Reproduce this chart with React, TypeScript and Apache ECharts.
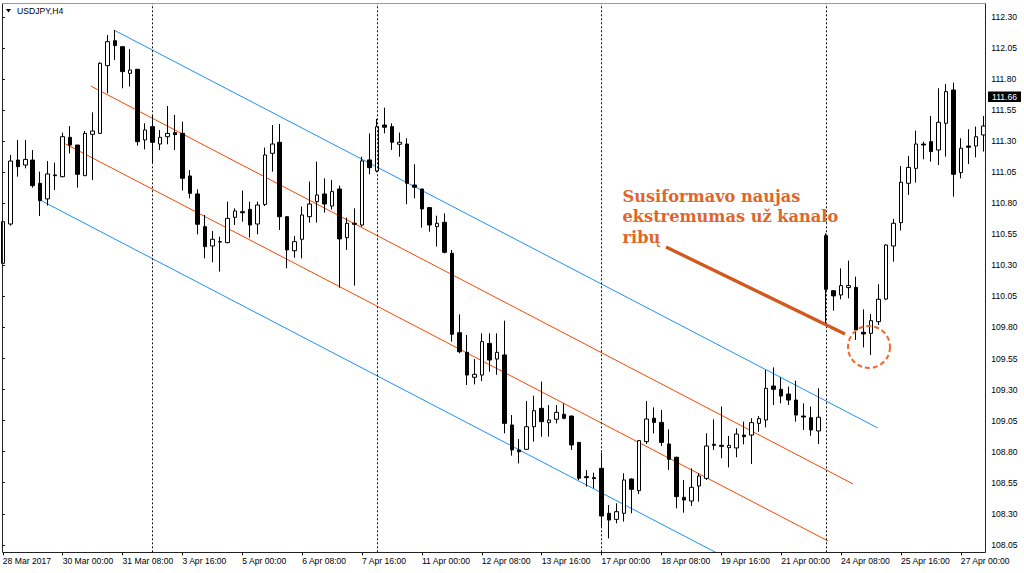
import React, { useEffect, useRef } from "react";
import * as echarts from "echarts";

// ---- data (USDJPY, H4) ----
const TICK_LABELS = [
  "28 Mar 2017", "30 Mar 00:00", "31 Mar 08:00", "3 Apr 16:00", "5 Apr 00:00",
  "6 Apr 08:00", "7 Apr 16:00", "11 Apr 00:00", "12 Apr 08:00", "13 Apr 16:00",
  "17 Apr 00:00", "18 Apr 08:00", "19 Apr 16:00", "21 Apr 00:00", "24 Apr 08:00",
  "25 Apr 16:00", "27 Apr 00:00",
];
const BARS_PER_LABEL = 8;

const OPEN = [
  110.316, 110.633, 111.148, 111.108, 111.148, 110.961, 110.835, 111.028, 111.014, 111.331,
  111.269, 111.022, 111.355, 111.363, 111.908, 112.109, 112.061, 111.846, 111.879, 111.310,
  111.417, 111.277, 111.336, 111.369, 111.363, 111.020, 110.875, 110.612, 110.456, 110.491,
  110.483, 110.687, 110.732, 110.751, 110.633, 110.791, 111.202, 111.291, 110.692, 110.418,
  110.510, 110.692, 110.813, 110.875, 110.778, 110.915, 110.523, 110.639, 110.625, 111.149,
  111.060, 111.430, 111.417, 111.275, 111.277, 110.947, 110.915, 110.765, 110.612, 110.647,
  110.397, 109.758, 109.600, 109.399, 109.417, 109.672, 109.546, 109.579, 109.015, 108.814,
  108.819, 109.001, 109.149, 109.034, 109.061, 109.101, 109.087, 108.875, 108.599, 108.591,
  108.666, 108.304, 108.255, 108.304, 108.580, 108.486, 108.881, 109.069, 109.036, 108.862,
  108.755, 108.433, 108.403, 108.524, 108.585, 108.859, 108.851, 108.832, 108.830, 108.934,
  108.934, 109.028, 109.055, 109.329, 109.302, 109.264, 109.216, 109.087, 109.074, 108.967,
  110.539, 110.096, 110.062, 110.121, 110.123, 109.761, 109.753, 109.847, 110.029, 110.456,
  110.644, 110.961, 111.081, 111.277, 111.296, 111.229, 111.444, 111.712, 111.047, 111.261,
  111.261, 111.350,
];
const HIGH = [
  110.665, 111.189, 111.310, 111.310, 111.229, 111.055, 111.140, 111.127, 111.369, 111.422,
  111.269, 111.382, 111.532, 111.935, 112.155, 112.195, 112.061, 112.042, 111.879, 111.444,
  111.511, 111.390, 111.583, 111.511, 111.457, 111.068, 110.912, 110.706, 110.577, 110.531,
  110.813, 110.759, 110.902, 110.813, 110.813, 111.248, 111.430, 111.438, 110.692, 110.537,
  110.773, 110.974, 111.135, 111.001, 110.988, 110.942, 110.684, 110.759, 111.175, 111.363,
  111.479, 111.570, 111.444, 111.369, 111.323, 111.114, 110.915, 110.770, 110.700, 110.719,
  110.424, 109.906, 109.740, 109.546, 109.753, 109.753, 109.753, 109.855, 109.095, 108.902,
  109.208, 109.251, 109.364, 109.176, 109.176, 109.189, 109.090, 108.875, 108.653, 108.631,
  108.792, 108.371, 108.384, 108.626, 108.585, 108.894, 109.208, 109.157, 109.136, 108.980,
  108.760, 108.572, 108.666, 108.626, 108.948, 109.061, 109.163, 108.926, 108.988, 109.042,
  109.069, 109.087, 109.458, 109.479, 109.399, 109.324, 109.372, 109.189, 109.163, 109.310,
  110.558, 110.100, 110.276, 110.338, 110.209, 109.946, 109.909, 110.148, 110.470, 110.674,
  111.100, 111.181, 111.385, 111.296, 111.503, 111.726, 111.761, 111.771, 111.323, 111.396,
  111.417, 111.503,
];
const LOW = [
  110.169, 110.620, 111.014, 111.081, 110.926, 110.698, 110.781, 110.907, 111.009, 111.202,
  110.926, 111.020, 110.987, 111.358, 111.685, 111.954, 111.726, 111.739, 111.264, 111.234,
  111.121, 111.229, 111.275, 111.229, 110.902, 110.840, 110.550, 110.357, 110.325, 110.250,
  110.478, 110.625, 110.652, 110.523, 110.550, 110.778, 111.055, 110.585, 110.276, 110.362,
  110.357, 110.644, 110.644, 110.725, 110.751, 110.121, 110.424, 110.137, 110.612, 111.033,
  111.049, 111.363, 111.229, 111.175, 110.792, 110.840, 110.604, 110.572, 110.451, 110.397,
  109.686, 109.592, 109.337, 109.342, 109.369, 109.444, 109.420, 108.948, 108.768, 108.706,
  108.814, 108.881, 108.921, 108.921, 109.028, 109.061, 108.814, 108.572, 108.518, 108.505,
  108.196, 108.102, 108.223, 108.237, 108.304, 108.459, 108.862, 108.948, 108.846, 108.653,
  108.344, 108.309, 108.363, 108.398, 108.572, 108.814, 108.747, 108.674, 108.755, 108.859,
  108.701, 108.961, 108.996, 109.176, 109.189, 109.176, 109.042, 108.975, 108.929, 108.862,
  109.836, 109.935, 110.027, 110.035, 109.699, 109.640, 109.578, 109.820, 110.020, 110.330,
  110.580, 110.867, 110.966, 111.154, 111.135, 111.108, 111.175, 110.853, 111.001, 111.116,
  111.170, 111.216,
];
const CLOSE = [
  110.652, 111.140, 111.095, 111.153, 110.942, 110.821, 111.036, 111.022, 111.336, 111.269,
  111.033, 111.363, 111.382, 111.927, 112.101, 112.069, 111.860, 111.873, 111.296, 111.390,
  111.291, 111.331, 111.363, 111.353, 111.001, 110.880, 110.631, 110.451, 110.510, 110.488,
  110.679, 110.738, 110.724, 110.625, 110.786, 111.189, 111.277, 110.692, 110.424, 110.491,
  110.706, 110.794, 110.867, 110.794, 110.894, 110.513, 110.639, 110.631, 111.141, 111.087,
  111.417, 111.412, 111.291, 111.291, 110.961, 110.929, 110.754, 110.625, 110.639, 110.405,
  109.745, 109.605, 109.417, 109.423, 109.686, 109.538, 109.600, 109.028, 108.814, 108.800,
  109.001, 109.130, 109.042, 109.055, 109.117, 109.069, 108.854, 108.586, 108.591, 108.583,
  108.282, 108.250, 108.317, 108.572, 108.497, 108.889, 109.063, 109.036, 108.875, 108.739,
  108.438, 108.411, 108.513, 108.604, 108.846, 108.851, 108.843, 108.851, 108.942, 108.921,
  109.034, 109.066, 109.310, 109.302, 109.248, 109.216, 109.095, 109.079, 108.975, 109.077,
  110.107, 110.054, 110.137, 110.137, 109.780, 109.748, 109.855, 110.027, 110.464, 110.639,
  110.969, 111.089, 111.277, 111.269, 111.216, 111.452, 111.699, 111.033, 111.243, 111.251,
  111.336, 111.422,
];

const PRICE_TICKS = [
  108.05, 108.3, 108.55, 108.8, 109.05, 109.3, 109.55, 109.8, 110.05,
  110.3, 110.55, 110.8, 111.05, 111.3, 111.55, 111.8, 112.05, 112.3,
];
const PRICE_MIN = 107.99;
const PRICE_MAX = 112.41;
const CURRENT_PRICE = "111.66";
const SYMBOL_TITLE = "USDJPY,H4";

// week separators (bar index of Monday 00:00)
const SEPARATOR_BARS = [20, 50, 80, 110];

// channel lines: [barIndex, price] start and end
const BLUE_UPPER = [[15, 112.19], [116.9, 108.991]];
const RED_UPPER = [[11.74, 111.744], [113.6, 108.54]];
const RED_LOWER = [[8.4, 111.277], [110.25, 108.081]];
const BLUE_LOWER = [[5.2, 110.819], [107.0, 107.62]];

const NOTE_LINES = ["Susiformavo naujas", "ekstremumas už kanalo", "ribų"];

export default function App() {
  const ref = useRef<HTMLDivElement>(null);

  useEffect(() => {
    document.body.style.margin = "0";
    if (!ref.current) return;
    const chart = echarts.init(ref.current, null, { renderer: "svg" });
    const n = OPEN.length;
    const categories = OPEN.map((_, i) => String(i));
    const candles = OPEN.map((o, i) => [o, CLOSE[i], LOW[i], HIGH[i]]);
    const axisFont = { fontFamily: "Liberation Sans", fontSize: 8.6, color: "#000" };

    const gridLeft = 2.8;
    const gridTop = 3.3;
    const gridWidth = 980.5;
    const gridHeight = 549;

    const channel = (data: number[][], color: string, extra: any = {}) => ({
      type: "line",
      xAxisIndex: 1,
      yAxisIndex: 0,
      data,
      symbol: "none",
      silent: true,
      z: 2,
      lineStyle: { color, width: 1 },
      ...extra,
    });

    const option: any = {
      animation: false,
      backgroundColor: "#ffffff",
      grid: {
        left: gridLeft,
        top: gridTop,
        width: gridWidth,
        height: gridHeight,
        containLabel: false,
        outerBoundsMode: "none",
      },
      xAxis: [
        {
          type: "category",
          data: categories,
          boundaryGap: false,
          axisLine: { show: false },
          axisTick: {
            show: true,
            interval: (i: number) => i % BARS_PER_LABEL === 0,
            length: 3,
            lineStyle: { color: "#000", width: 1 },
          },
          axisLabel: {
            interval: (i: number) => i % BARS_PER_LABEL === 0,
            formatter: (_v: string, i: number) =>
              i % BARS_PER_LABEL === 0 ? TICK_LABELS[i / BARS_PER_LABEL] ?? "" : "",
            align: "left",
            margin: 4,
            ...axisFont,
          },
          splitLine: { show: false },
        },
        {
          type: "value",
          min: 0,
          max: n - 1,
          show: false,
          gridIndex: 0,
        },
      ],
      yAxis: {
        type: "value",
        min: PRICE_MIN,
        max: PRICE_MAX,
        position: "right",
        offset: 3,
        scale: true,
        axisLine: { show: false },
        splitLine: { show: false },
        axisTick: {
          show: true,
          customValues: PRICE_TICKS,
          length: 2,
          lineStyle: { color: "#000", width: 1 },
        },
        axisLabel: {
          customValues: PRICE_TICKS,
          formatter: (v: number) => v.toFixed(2),
          margin: 5,
          ...axisFont,
        },
      },
      series: [
        channel(BLUE_UPPER, "#1E90FF", {
          markLine: {
            silent: true,
            symbol: ["none", "none"],
            label: { show: false },
            lineStyle: { color: "#111", type: [2, 2], width: 1 },
            data: SEPARATOR_BARS.map((b) => ({ xAxis: b })),
          },
        }),
        channel(RED_UPPER, "#FF4500"),
        channel(RED_LOWER, "#FF4500"),
        channel(BLUE_LOWER, "#1E90FF"),
        {
          type: "candlestick",
          xAxisIndex: 0,
          yAxisIndex: 0,
          data: candles,
          barWidth: 4,
          z: 3,
          itemStyle: {
            color: "#ffffff",
            color0: "#000000",
            borderColor: "#000000",
            borderColor0: "#000000",
            borderColorDoji: "#000000",
            borderWidth: 1,
          },
        },
      ],
      graphic: [
        {
          type: "rect",
          silent: true,
          z: 50,
          shape: { x: 2.5, y: 3.5, width: 983, height: 549 },
          style: { fill: "none", stroke: "#222", lineWidth: 1 },
        },
        {
          type: "line",
          silent: true,
          z: 51,
          shape: { x1: 2.5, y1: 3.5, x2: 985.5, y2: 3.5 },
          style: { stroke: "#9a9a9a", lineWidth: 1 },
        },
        {
          type: "polygon",
          silent: true,
          z: 52,
          shape: { points: [[6, 9], [11, 9], [8.5, 12.5]] },
          style: { fill: "#000" },
        },
        {
          type: "text",
          silent: true,
          z: 52,
          x: 17,
          y: 11,
          style: {
            text: SYMBOL_TITLE,
            fill: "#000",
            font: "8.6px 'Liberation Sans'",
            verticalAlign: "middle",
          },
        },
        {
          type: "rect",
          silent: true,
          z: 52,
          shape: { x: 988, y: 91.5, width: 33, height: 10.5 },
          style: { fill: "#000" },
        },
        {
          type: "text",
          silent: true,
          z: 53,
          x: 1004.5,
          y: 96.8,
          style: {
            text: CURRENT_PRICE,
            fill: "#fff",
            font: "8.6px 'Liberation Sans'",
            align: "center",
            verticalAlign: "middle",
          },
        },
        ...NOTE_LINES.map((t, k) => ({
          type: "text",
          silent: true,
          z: 60,
          x: 622.5,
          y: 196 + k * 20.8,
          style: {
            text: t,
            fill: "#e0652a",
            font: "bold 16.2px 'DejaVu Serif'",
            verticalAlign: "middle",
          },
        })),
        {
          type: "line",
          silent: true,
          z: 60,
          shape: { x1: 666, y1: 247, x2: 845, y2: 334 },
          style: { stroke: "#d2581c", lineWidth: 3.3 },
        },
        {
          type: "circle",
          silent: true,
          z: 60,
          shape: { cx: 869, cy: 347, r: 21 },
          style: { fill: "none", stroke: "#f26a2a", lineWidth: 2, lineDash: [5, 3] },
        },
      ],
    };

    chart.setOption(option);
    return () => chart.dispose();
  }, []);

  return <div ref={ref} style={{ width: 1024, height: 573, background: "#fff" }} />;
}
